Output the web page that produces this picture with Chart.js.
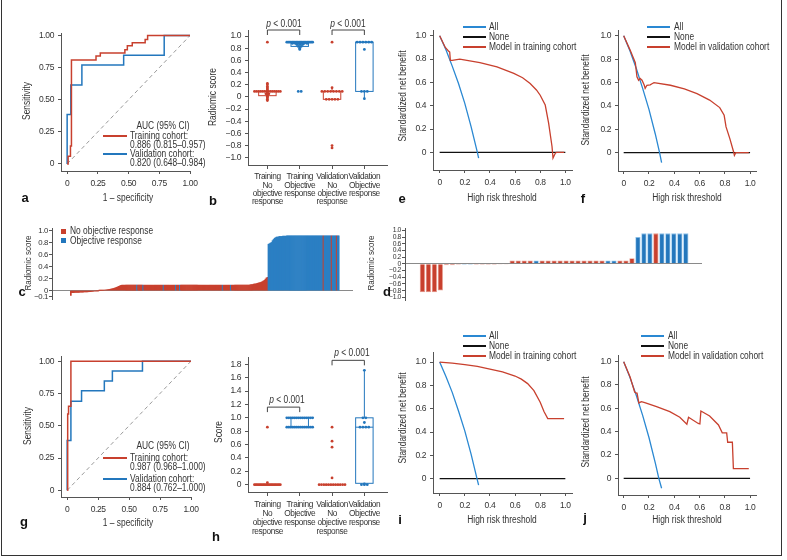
<!DOCTYPE html>
<html>
<head>
<meta charset="utf-8">
<script src="https://cdn.jsdelivr.net/npm/chart.js@4.4.1/dist/chart.umd.min.js"></script>
<style>
body { margin: 0; background: #fff; }
#fig { position: relative; width: 787px; height: 560px; overflow: hidden; color: #333;
  font-family: "Liberation Sans", Arial, sans-serif; }
#frame { position: absolute; left: 1px; top: -4px; width: 781px; height: 560px; border: 1.5px solid #333; box-sizing: border-box; }
canvas { position: absolute; }
.t { position: absolute; white-space: nowrap; font-size: 10px; line-height: 1; }
.lt { position: absolute; font-family: "Liberation Sans", Arial, sans-serif; font-weight: bold; font-size: 13px; line-height: 1; color: #111; }
.ln { position: absolute; height: 1.5px; }
.sq { position: absolute; width: 5px; height: 5px; }
</style>
</head>
<body>
<div id="fig"><div id="frame"></div></div>
<script>
// ---- data ----
// ROC curves: [1 - specificity, sensitivity]
const rocTrainA = [[0,0],[0.008,0],[0.008,0.06],[0.027,0.06],[0.027,0.14],[0.035,0.14],[0.035,0.81],[0.235,0.81],[0.235,0.84],[0.27,0.84],[0.27,0.865],[0.47,0.865],[0.47,0.89],[0.49,0.89],[0.49,0.92],[0.53,0.92],[0.53,0.945],[0.635,0.945],[0.635,0.97],[0.655,0.97],[0.655,1],[1,1]];
const rocValA = [[0,0],[0,0.385],[0.03,0.385],[0.03,0.615],[0.12,0.615],[0.12,0.77],[0.46,0.77],[0.46,0.846],[0.79,0.846],[0.79,1],[1,1]];
const rocTrainG = [[0,0],[0.004,0.38],[0.004,0.59],[0.011,0.59],[0.011,0.65],[0.03,0.65],[0.03,1],[1,1]];
const rocValG = [[0,0],[0,0.385],[0.03,0.385],[0.03,0.69],[0.116,0.69],[0.116,0.77],[0.3,0.77],[0.3,0.846],[0.365,0.846],[0.365,0.923],[0.608,0.923],[0.608,1],[1,1]];
const rocDiag = [[0,0],[1,1]];
const rocTicks = [0, 0.25, 0.5, 0.75, 1];

// decision curves: [threshold, standardized net benefit]
const dcaNone = [[0,0],[1,0]];
const dcaAllE = [[0,1],[0.05,0.88],[0.1,0.74],[0.15,0.59],[0.2,0.42],[0.25,0.22],[0.3,0],[0.31,-0.05]];
const dcaModelE = [[0,1],[0.045,0.9],[0.07,0.87],[0.08,0.86],[0.085,0.79],[0.1,0.79],[0.16,0.8],[0.32,0.77],[0.456,0.734],[0.59,0.677],[0.66,0.64],[0.72,0.59],[0.77,0.535],[0.8,0.49],[0.84,0.406],[0.867,0.25],[0.894,0.05],[0.902,-0.05],[0.92,-0.009],[0.93,0],[0.99,0]];
const dcaAllF = [[0,1],[0.05,0.87],[0.1,0.72],[0.15,0.55],[0.2,0.37],[0.25,0.16],[0.284,0],[0.3,-0.085]];
const dcaModelF = [[0,1],[0.05,0.88],[0.092,0.77],[0.105,0.65],[0.118,0.62],[0.13,0.635],[0.145,0.62],[0.163,0.577],[0.17,0.55],[0.184,0.577],[0.21,0.58],[0.224,0.59],[0.24,0.6],[0.37,0.577],[0.48,0.545],[0.58,0.506],[0.68,0.45],[0.76,0.386],[0.795,0.32],[0.81,0.22],[0.84,0.12],[0.87,0.006],[0.876,-0.023],[0.887,0],[0.99,0]];
const dcaAllI = [[0,1],[0.05,0.875],[0.1,0.74],[0.15,0.58],[0.2,0.41],[0.25,0.21],[0.297,0],[0.31,-0.055]];
const dcaModelI = [[0,1],[0.1,0.99],[0.2,0.978],[0.3,0.962],[0.4,0.94],[0.5,0.915],[0.6,0.88],[0.65,0.853],[0.7,0.815],[0.75,0.755],[0.8,0.655],[0.83,0.575],[0.86,0.515],[0.99,0.515]];
const dcaAllJ = [[0,1],[0.05,0.863],[0.1,0.71],[0.15,0.54],[0.2,0.35],[0.25,0.133],[0.278,0],[0.3,-0.085]];
const dcaModelJ = [[0,1],[0.05,0.87],[0.087,0.74],[0.1,0.73],[0.105,0.735],[0.12,0.646],[0.14,0.657],[0.167,0.649],[0.26,0.614],[0.365,0.571],[0.444,0.523],[0.5,0.463],[0.513,0.523],[0.59,0.47],[0.603,0.466],[0.611,0.577],[0.68,0.534],[0.75,0.457],[0.78,0.39],[0.815,0.39],[0.823,0.309],[0.86,0.309],[0.868,0.083],[0.99,0.083]];
const dcaTicks = [0, 0.2, 0.4, 0.6, 0.8, 1];

// radiomic score dot/box plot (b) and score plot (h)
const groupLabels = [['Training','No','objective','response'],['Training','Objective','response'],['Validation','No','objective','response'],['Validation','Objective','response']];
const bTrainNo = [0.9,0.22,0.2,0.17,0.15,0.13,0.11,0.09,0.09,0.09,0.09,0.09,0.09,0.09,0.09,0.09,0.09,0.09,0.09,0.09,0.09,0.07,0.05,0.05,0.03,0.01,0,-0.02,-0.04,-0.06];
const bTrainOR = [0.9,0.9,0.9,0.9,0.9,0.9,0.9,0.9,0.9,0.9,0.9,0.9,0.9,0.9,0.9,0.9,0.9,0.9,0.9,0.9,0.88,0.88,0.88,0.88,0.88,0.88,0.86,0.86,0.86,0.83,0.83,0.8,0.78,0.09,0.09];
const bValNo = [0.9,0.15,0.09,0.09,0.09,0.09,0.09,0.09,0.09,0.09,-0.04,-0.04,-0.04,-0.04,-0.04,-0.8,-0.84];
const bValOR = [0.9,0.9,0.9,0.9,0.9,0.9,0.78,0.09,0.09,0.09,-0.03];
const bQ1 = [0.02, 0.83, -0.04, 0.09];
const bMed = [0.09, 0.88, 0.09, 0.9];
const bQ3 = [0.09, 0.9, 0.09, 0.9];
const bLo = [-0.07, 0.78, -0.04, -0.03];
const bHi = [0.22, 0.9, 0.15, 0.9];
const bBrackets = [[1, 2, 1.1], [3, 4, 1.1]];
const bTicks = [-1, -0.8, -0.6, -0.4, -0.2, 0, 0.2, 0.4, 0.6, 0.8, 1];

const hTrainNo = [0.86,0.03,0,0,0,0,0,0,0,0,0,0,0,0,0,0,0,0,0,0,0,0];
const hTrainOR = [1,1,1,1,1,1,1,1,1,1,1,1,1,1,0.86,0.86,0.86,0.86,0.86,0.86,0.86,0.86,0.86,0.86,0.86,0.86,0.86,0.86];
const hValNo = [0.86,0.65,0.56,0.1,0,0,0,0,0,0,0,0,0,0,0,0];
const hValOR = [1.71,1,1,0.93,0.86,0.86,0.86,0.86,0.01,0,0,0];
const hQ1 = [0, 0.86, 0, 0.02];
const hMed = [0, 0.86, 0, 0.86];
const hQ3 = [0, 1, 0, 1];
const hLo = [0, 0.86, 0, 0];
const hHi = [0, 1, 0, 1.71];
const hBrackets = [[1, 2, 1.16], [3, 4, 1.86]];
const hTicks = [0, 0.2, 0.4, 0.6, 0.8, 1, 1.2, 1.4, 1.6, 1.8];

// waterfall, training cohort (c): score per patient, N = no objective response, O = objective response
const cScore = [
  -0.08,
  -0.035,-0.034,-0.033,-0.032,-0.031,-0.03,-0.03,-0.029,-0.028,-0.027,-0.026,-0.025,-0.024,-0.023,-0.022,-0.021,-0.02,-0.019,-0.018,-0.016,-0.014,-0.012,
  -0.008,-0.006,-0.005,-0.004,-0.002,0.001,0.002,0.003,0.004,0.005,
  0.008,0.01,0.012,0.015,0.018,0.02,0.024,0.028,0.032,0.036,0.042,0.048,0.055,0.062,0.07,0.078,0.085,
  0.09,0.09,0.09,0.09,0.09,0.09,0.09,0.09,0.09,0.09,0.09,0.09,0.09,0.09,0.09,0.09,0.09,0.09,
  0.09,0.09,0.09,0.09,0.09,0.09,0.09,0.09,0.09,0.09,0.09,0.09,0.09,0.09,0.09,0.09,0.09,0.09,
  0.09,0.09,0.09,0.09,0.09,0.09,0.09,0.09,0.09,0.09,0.09,0.09,0.09,0.09,0.09,0.09,0.09,0.09,
  0.09,0.09,0.09,0.09,0.09,0.09,0.09,0.09,0.09,0.09,0.09,0.09,0.09,0.09,0.09,0.09,0.09,0.09,
  0.09,0.09,0.09,0.09,0.09,0.09,0.09,0.09,0.09,0.09,0.09,0.09,0.09,0.09,0.09,0.09,0.09,0.09,
  0.09,0.09,0.09,0.09,0.09,0.09,0.09,0.09,0.09,0.09,0.09,0.09,0.09,0.09,0.09,0.09,0.09,0.09,
  0.09,0.09,0.09,0.09,0.09,0.09,0.09,0.09,0.09,0.09,0.09,0.09,0.09,0.09,0.09,0.09,0.09,0.09,
  0.095,0.1,0.1,0.105,0.11,0.11,0.115,0.12,0.125,0.13,0.135,0.14,0.15,0.16,0.17,0.19,0.21,0.22,
  0.77,0.78,0.79,0.8,0.83,0.85,0.87,0.88,
  0.89,0.89,0.895,0.9,0.9,0.9,0.905,0.905,0.905,0.905,
  0.91,0.91,0.91,0.91,0.91,0.91,0.91,0.91,0.91,0.91,0.91,0.91,0.91,
  0.91,0.91,0.91,0.91,0.91,0.91,0.91,0.91,0.91,0.91,0.91,0.91,0.91,
  0.91,0.91,0.91,0.91,0.91,0.91,0.91,0.91,0.91,0.91,0.91,0.91,0.91,
  0.91,0.91,0.91,0.91,0.91,0.91,0.91,0.91,0.91,0.91,0.91,0.91,0.91
];
const cResponse =
  'NNNNNNNNNN' + 'NNNNNNNNNN' + 'NNNNNNNNNN' + 'NNNNNNNNNN' + 'NNNNNNNNNN' +
  'NNNNNNNNNNNNNNN' + 'O' + 'NNNNN' + 'O' + 'NNNNNNNNNNNNNNNNNNN' + 'O' + 'NNNNNNNNNNN' + 'O' + 'NNN' + 'O' +
  'NNNNNNNNNNNNNNNNNNNNNNNNNNNNNNNNNNNNNNNNN' + 'O' + 'NNNNNNN' + 'O' + 'NNNNNNNNNNNNNNNNNN' +
  'NNNNNNNNNNNNNNNNNN' +
  'OOOOOOOO' +
  'OOOOOOOOOOOOOOOOOOOOOOOOOOOOOOOOOOOOOOOOOOOOOO' + 'N' + 'OOOOOOO' + 'N' + 'OOOO' + 'N' + 'OO';
const cTicks = [-0.1, 0, 0.2, 0.4, 0.6, 0.8, 1];

// waterfall, validation cohort (d)
const dScore = [-0.85,-0.85,-0.85,-0.8,
  -0.04,-0.04,-0.03,-0.03,-0.03,-0.03,-0.03,-0.03,-0.03,-0.02,-0.02,
  0.1,0.1,0.1,0.1,0.1,0.1,0.1,0.1,0.1,0.1,0.1,0.1,0.1,0.1,0.1,0.1,0.1,0.1,0.1,0.1,
  0.17,0.8,0.91,0.91,0.91,0.91,0.91,0.91,0.91,0.91];
const dResponse = 'NNNN' + 'NNNOONNNNNN' + 'NNNNONNNNNNNNNNNOONN' + 'NO' + 'OONOOOOO';
const dTicks = [-1, -0.8, -0.6, -0.4, -0.2, 0, 0.2, 0.4, 0.6, 0.8, 1];

// ---- styling ----
const RED = '#c8402e', BLUE = '#2377bd', BLUE2 = '#2a88d2', AX = '#555';
const FONT = '"Liberation Sans", Arial, sans-serif';
Chart.defaults.font.family = FONT;
Chart.defaults.color = '#333';
const fig = document.getElementById('fig');

// tighter glyph spacing so canvas labels look like the narrow face of the original
const narrowText = {
  id: 'narrowText',
  beforeDraw(chart) { if ('letterSpacing' in chart.ctx) chart.ctx.letterSpacing = '-0.4px'; }
};

const fmt2 = v => v === 0 ? '0' : v.toFixed(2);
const fmt1 = v => v === 0 ? '0' : (v < 0 ? '\u2212' : '') + Math.abs(v).toFixed(1);

function lin(min, max, ticks, fmt, o) {
  o = o || {};
  return {
    type: 'linear', min: min, max: max, display: o.hide ? false : true,
    afterBuildTicks: s => { s.ticks = ticks.map(v => ({ value: v })); },
    afterFit: s => {
      if (o.w !== undefined) s.width = o.w;
      if (o.h !== undefined) s.height = o.h;
      s.paddingLeft = s.paddingRight = s.paddingTop = s.paddingBottom = 0;
    },
    ticks: { callback: v => fmt(v), color: '#333', autoSkip: false, maxRotation: 0, minRotation: 0,
      font: { family: FONT, size: o.fs || 8.5, lineHeight: o.lh || 1.2 }, padding: o.pad !== undefined ? o.pad : 4 },
    grid: { drawOnChartArea: !!o.zero, tickLength: o.tl !== undefined ? o.tl : 3, tickColor: AX, lineWidth: 1,
      color: o.zero ? (c => c.tick && c.tick.value === 0 ? '#8a8a8a' : 'rgba(0,0,0,0)') : AX },
    border: { display: true, color: AX, width: 1 }
  };
}

function line(pairs, color, w, dash) {
  return { type: 'line', data: pairs.map(p => ({ x: p[0], y: p[1] })), borderColor: color, borderWidth: w || 1.4,
    borderDash: dash || [], pointRadius: 0, fill: false, tension: 0 };
}

function panel(box, o, type, datasets, scales, plugins) {
  const padT = o.padT !== undefined ? o.padT : 6, padR = o.padR !== undefined ? o.padR : 14, padB = o.padB || 0;
  const left = box[0] - o.yw, top = box[1] - padT;
  const c = document.createElement('canvas');
  c.width = box[2] - left + padR;
  c.height = box[3] + (o.xh || 0) + padB - top;
  c.style.left = left + 'px';
  c.style.top = top + 'px';
  fig.appendChild(c);
  new Chart(c, {
    type: type,
    data: { datasets: datasets },
    options: {
      responsive: false, animation: false, devicePixelRatio: 1,
      layout: { padding: { left: 0, top: padT, right: padR, bottom: padB } },
      plugins: { legend: { display: false }, tooltip: { enabled: false } },
      scales: scales
    },
    plugins: [narrowText].concat(plugins || [])
  });
}

// narrow-looking HTML labels: regular sans squeezed horizontally
function txt(x, y, s, o) {
  o = o || {};
  const d = document.createElement('div');
  d.className = o.cls || 't';
  d.innerHTML = s;
  d.style.left = x + 'px';
  d.style.top = y + 'px';
  if (o.fs) d.style.fontSize = o.fs + 'px';
  const al = o.align || 'center';
  const ax = al === 'left' ? '0' : al === 'right' ? '-100%' : '-50%';
  const sq = o.cls ? '' : ' scaleX(0.84)';
  if (o.rot) {
    d.style.transform = 'translate(-50%,-50%) rotate(-90deg)' + sq;
  } else {
    d.style.transformOrigin = al + ' center';
    d.style.transform = 'translate(' + ax + ',-50%)' + sq;
  }
  fig.appendChild(d);
}
function seg(x1, x2, y, color) {
  const d = document.createElement('div');
  d.className = 'ln';
  d.style.left = x1 + 'px'; d.style.width = (x2 - x1) + 'px';
  d.style.top = (y - 0.75) + 'px'; d.style.background = color;
  fig.appendChild(d);
}
function square(x, y, color) {
  const d = document.createElement('div');
  d.className = 'sq';
  d.style.left = (x - 2.5) + 'px'; d.style.top = (y - 2.5) + 'px'; d.style.background = color;
  fig.appendChild(d);
}

// spread equal values side by side around the group centre (beeswarm rows)
function swarm(cat, vals) {
  const rows = new Map();
  vals.forEach(v => rows.set(v, (rows.get(v) || 0) + 1));
  const pts = [];
  rows.forEach((n, v) => {
    const st = n > 1 ? Math.min(0.09, 0.8 / (n - 1)) : 0;
    for (let k = 0; k < n; k++) pts.push({ x: cat + (k - (n - 1) / 2) * st, y: v });
  });
  return pts;
}
function dots(cat, vals, color) {
  return { type: 'scatter', data: swarm(cat, vals), backgroundColor: color, borderWidth: 0, pointRadius: 1.4 };
}

function boxPlugin(q1, med, q3, lo, hi, cols, brackets) {
  return {
    id: 'boxes',
    beforeDatasetsDraw(chart) {
      const ctx = chart.ctx, x = chart.scales.x, y = chart.scales.y;
      ctx.save();
      ctx.lineWidth = 1;
      q1.forEach((_, i) => {
        const cx = x.getPixelForValue(i + 1), hw = x.getPixelForValue(i + 1.27) - cx;
        const y1 = y.getPixelForValue(q1[i]), y3 = y.getPixelForValue(q3[i]), ym = y.getPixelForValue(med[i]);
        ctx.strokeStyle = cols[i];
        ctx.strokeRect(cx - hw, y3, 2 * hw, y1 - y3);
        ctx.beginPath();
        ctx.moveTo(cx - hw, ym); ctx.lineTo(cx + hw, ym);
        ctx.moveTo(cx, y3); ctx.lineTo(cx, y.getPixelForValue(hi[i]));
        ctx.moveTo(cx, y1); ctx.lineTo(cx, y.getPixelForValue(lo[i]));
        ctx.stroke();
      });
      ctx.restore();
    },
    afterDraw(chart) {
      const ctx = chart.ctx, x = chart.scales.x, y = chart.scales.y;
      ctx.save();
      ctx.strokeStyle = '#444';
      ctx.lineWidth = 1;
      brackets.forEach(b => {
        const x1 = x.getPixelForValue(b[0]), x2 = x.getPixelForValue(b[1]), yt = y.getPixelForValue(b[2]);
        ctx.beginPath();
        ctx.moveTo(x1, yt + 5); ctx.lineTo(x1, yt); ctx.lineTo(x2, yt); ctx.lineTo(x2, yt + 5);
        ctx.stroke();
      });
      ctx.restore();
    }
  };
}

// ---- ROC panels (a, g) ----
function rocPanel(box, ymin, ymax, train, val) {
  panel(box, { yw: 40, xh: 22, padB: 2 }, 'scatter',
    [line(train, RED, 1.5), line(val, BLUE, 1.5), line(rocDiag, '#9a9a9a', 1, [4, 3])],
    { x: lin(-0.05, 1.0, rocTicks, fmt2, { h: 22, pad: 5 }), y: lin(ymin, ymax, rocTicks, fmt2, { w: 40 }) });
}
rocPanel([61, 33, 190, 171], -0.055, 1.02, rocTrainA, rocValA);
rocPanel([61, 356, 191, 497], -0.052, 1.04, rocTrainG, rocValG);

// ---- dot/box panels (b, h) ----
const catFmt = v => groupLabels[Math.round(v) - 1];
panel([248, 30, 387, 165], { yw: 36, xh: 44, padR: 18 }, 'scatter',
  [dots(1, bTrainNo, RED), dots(2, bTrainOR, BLUE), dots(3, bValNo, RED), dots(4, bValOR, BLUE)],
  { x: lin(0.4, 4.7, [1, 2, 3, 4], catFmt, { h: 44, fs: 8.3, lh: 1.0, tl: 4, pad: 4 }),
    y: lin(-1.12, 1.1, bTicks, fmt1, { w: 36 }) },
  [boxPlugin(bQ1, bMed, bQ3, bLo, bHi, [RED, BLUE, RED, BLUE], bBrackets)]);
panel([248, 357, 387, 492], { yw: 36, xh: 44, padR: 18 }, 'scatter',
  [dots(1, hTrainNo, RED), dots(2, hTrainOR, BLUE), dots(3, hValNo, RED), dots(4, hValOR, BLUE)],
  { x: lin(0.4, 4.7, [1, 2, 3, 4], catFmt, { h: 44, fs: 8.3, lh: 1.08, tl: 4, pad: 4 }),
    y: lin(-0.11, 1.91, hTicks, fmt1, { w: 36 }) },
  [boxPlugin(hQ1, hMed, hQ3, hLo, hHi, [RED, BLUE, RED, BLUE], hBrackets)]);

// ---- decision curve panels (e, f, i, j) ----
function dcaPanel(box, xmin, xmax, ymin, ymax, all, model) {
  panel(box, { yw: 34, xh: 22, padB: 2 }, 'scatter',
    [line(model, RED, 1.3), line(all, BLUE2, 1.3), line(dcaNone, '#111', 1.2)],
    { x: lin(xmin, xmax, dcaTicks, fmt1, { h: 22, pad: 5 }), y: lin(ymin, ymax, dcaTicks, fmt1, { w: 34 }) });
}
dcaPanel([433, 30, 572, 170], -0.053, 1.053, -0.152, 1.05, dcaAllE, dcaModelE);
dcaPanel([618, 30, 756, 171], -0.045, 1.047, -0.157, 1.05, dcaAllF, dcaModelF);
dcaPanel([433, 352, 572, 493], -0.053, 1.053, -0.123, 1.086, dcaAllI, dcaModelI);
dcaPanel([618, 355, 756, 495], -0.045, 1.047, -0.143, 1.057, dcaAllJ, dcaModelJ);

// ---- waterfall panels (c, d) ----
function waterfall(box, o, scores, resp, xmin, xmax, ymin, ymax, ticks, fs, barPct, edge, fills, strokes) {
  const colors = scores.map((_, i) => resp[i] === 'O' ? fills[1] : fills[0]);
  const edges = scores.map((_, i) => resp[i] === 'O' ? strokes[1] : strokes[0]);
  panel(box, o, 'bar',
    [{ type: 'bar', data: scores.map((v, i) => ({ x: i, y: v })), backgroundColor: colors,
       borderColor: edges, borderWidth: edge, barPercentage: barPct, categoryPercentage: 1 }],
    { x: lin(xmin, xmax, [], fmt1, { hide: true }),
      y: lin(ymin, ymax, ticks, fmt1, { w: o.yw, fs: fs, lh: 1, tl: 3, pad: 1, zero: true }) });
}
waterfall([52, 228, 353, 299], { yw: 30, padB: 6 }, cScore, cResponse, -18.5, 277, -0.14, 1.04, cTicks, 7.8, 1, 0,
  [RED, '#2b7fc3'], [RED, '#2b7fc3']);
waterfall([405, 228, 702, 300], { yw: 28, padB: 6 }, dScore, dResponse, -2.9, 46.7, -1.08, 1.07, dTicks, 6.8, 0.88, 0.8,
  [RED, BLUE], ['#e79a8d', '#8cc2ec']);

// ---- text: axis titles, legends, letters ----
txt(27, 101, 'Sensitivity', { rot: true });
txt(128, 198, '1 \u2013 specificity');
txt(163, 126, 'AUC (95% CI)');
seg(103, 127, 136, RED); txt(130, 136, 'Training cohort:', { align: 'left' });
txt(130, 145, '0.886 (0.815\u20130.957)', { align: 'left' });
seg(103, 127, 154, BLUE); txt(130, 154, 'Validation cohort:', { align: 'left' });
txt(130, 163, '0.820 (0.648\u20130.984)', { align: 'left' });

txt(28, 426, 'Sensitivity', { rot: true });
txt(128, 523, '1 \u2013 specificity');
txt(163, 446, 'AUC (95% CI)');
seg(103, 127, 458, RED); txt(130, 458, 'Training cohort:', { align: 'left' });
txt(130, 467, '0.987 (0.968\u20131.000)', { align: 'left' });
seg(103, 127, 479, BLUE); txt(130, 479, 'Validation cohort:', { align: 'left' });
txt(130, 488, '0.884 (0.762\u20131.000)', { align: 'left' });

txt(213, 97, 'Radiomic score', { rot: true });
txt(284, 24, '<i>p</i> &lt; 0.001');
txt(348, 24, '<i>p</i> &lt; 0.001');
txt(219, 432, 'Score', { rot: true });
txt(287, 400, '<i>p</i> &lt; 0.001');
txt(352, 353, '<i>p</i> &lt; 0.001');

function dcaLegend(x1, x2, tx, ys, label) {
  seg(x1, x2, ys[0], BLUE2); txt(tx, ys[0], 'All', { align: 'left' });
  seg(x1, x2, ys[1], '#111'); txt(tx, ys[1], 'None', { align: 'left' });
  seg(x1, x2, ys[2], RED); txt(tx, ys[2], label, { align: 'left' });
}
dcaLegend(463, 486, 489, [27, 37, 47], 'Model in training cohort');
dcaLegend(647, 670, 674, [27, 37, 47], 'Model in validation cohort');
dcaLegend(463, 486, 489, [336, 346, 356], 'Model in training cohort');
dcaLegend(641, 664, 668, [336, 346, 356], 'Model in validation cohort');
txt(403, 96, 'Standardized net benefit', { rot: true });
txt(586, 100, 'Standardized net benefit', { rot: true });
txt(403, 418, 'Standardized net benefit', { rot: true });
txt(586, 422, 'Standardized net benefit', { rot: true });
txt(502, 198, 'High risk threshold');
txt(687, 198, 'High risk threshold');
txt(502, 520, 'High risk threshold');
txt(687, 520, 'High risk threshold');

txt(28, 263, 'Radiomic score', { rot: true, fs: 9.5 });
txt(371, 263, 'Radiomic score', { rot: true, fs: 9.5 });
square(63.5, 231, RED); txt(70, 231, 'No objective response', { align: 'left' });
square(63.5, 240.5, BLUE); txt(70, 240.5, 'Objective response', { align: 'left' });

const letters = [['a', 25, 197], ['b', 213, 200], ['e', 402, 198], ['f', 583, 198], ['c', 22, 291], ['d', 387, 291],
  ['g', 24, 521], ['h', 216, 536], ['i', 400, 519], ['j', 585, 517]];
letters.forEach(l => txt(l[1], l[2], l[0], { cls: 'lt' }));
</script>
</body>
</html>
